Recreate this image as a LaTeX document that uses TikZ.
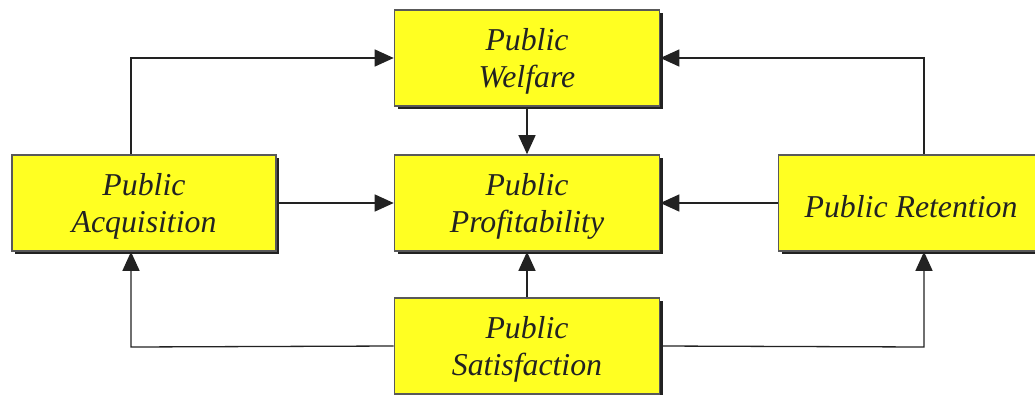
\documentclass[tikz,border=0pt]{standalone}
\usepackage{fontspec}
\setmainfont{Liberation Serif}
\usetikzlibrary{arrows.meta,shadows}
\definecolor{boxfill}{HTML}{FFFF22}
\definecolor{ink}{HTML}{222222}
% taller first line, so the text sits a little lower in its box
\newcommand\firstline{\rule{0pt}{29.5pt}}
\begin{document}
\begin{tikzpicture}[x=1pt,y=-1pt,
  blockbox/.style={draw=black!65, line width=1.6pt, fill=boxfill,
    minimum width=265pt, minimum height=96pt, inner sep=0pt,
    align=center, text=ink,
    font=\itshape\fontsize{31.8}{37}\selectfont,
    drop shadow={shadow xshift=3pt, shadow yshift=-3pt, fill=ink, opacity=1}},
  link/.style={draw=ink, line width=1.3pt,
    -{Triangle[length=19pt,width=17pt]}}]
\useasboundingbox (0,0) rectangle (1035,394);
% boxes
\node[blockbox] (welf) at (527,58) {\firstline Public\\Welfare};
\node[blockbox] (prof) at (527,203) {\firstline Public\\Profitability};
\node[blockbox, minimum width=264pt] (acq) at (144,203) {\firstline Public\\Acquisition};
\node[blockbox] (ret) at (911,203) {\firstline Public Retention};
\node[blockbox] (sat) at (527,346) {\firstline Public\\Satisfaction};
% corner points of the routed connectors
\coordinate (acqtop) at (131,58);
\coordinate (rettop) at (924,58);
\coordinate (acqbot) at (131,347);
\coordinate (retbot) at (924,347);
% connectors
\draw[link] (welf.south) -- (prof.north);
\draw[link] (sat.north) -- (prof.south);
\draw[link] (acq.east) -- (prof.west);
\draw[link] (ret.west) -- (prof.east);
\draw[link] (acq.north -| acqtop) -- (acqtop) -- (welf.west);
\draw[link] (ret.north -| rettop) -- (rettop) -- (welf.east);
\draw[link] (sat.west) -- (acqbot) -- (acq.south -| acqbot);
\draw[link] (sat.east) -- (retbot) -- (ret.south -| retbot);
\end{tikzpicture}
\end{document}
